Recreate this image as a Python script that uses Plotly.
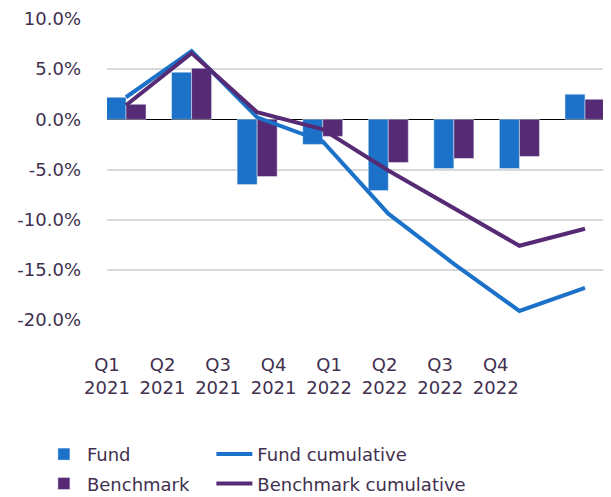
import plotly.graph_objects as go

quarters = ["Q1<br>2021", "Q2<br>2021", "Q3<br>2021", "Q4<br>2021",
            "Q1<br>2022", "Q2<br>2022", "Q3<br>2022", "Q4<br>2022"]
fund = [2.2, 4.7, -6.5, -2.5, -7.1, -4.9, -4.9, 2.5]
benchmark = [1.5, 5.1, -5.7, -1.7, -4.3, -3.9, -3.7, 2.0]
fund_cum = [2.2, 6.8, 0.2, -2.2, -9.4, -14.4, -19.1, -16.8]
bench_cum = [1.4, 6.6, 0.7, -1.0, -5.1, -8.9, -12.6, -10.9]
y_ticks = [10, 5, 0, -5, -10, -15, -20]
y_tick_labels = ["10.0%", "5.0%", "0.0%", "-5.0%", "-10.0%", "-15.0%", "-20.0%"]

BLUE = "#1b72c8"
PURPLE = "#562a74"
TEXT = "#41304f"
FONT = "DejaVu Sans"
FS = 18

fig = go.Figure()
fig.add_trace(go.Bar(x=quarters, y=fund, name="Fund", marker_color=BLUE,
                     legend="legend", legendgroup="a"))
fig.add_trace(go.Bar(x=quarters, y=benchmark, name="Benchmark", marker_color=PURPLE,
                     legend="legend", legendgroup="b"))
fig.add_trace(go.Scatter(x=quarters, y=fund_cum, name="Fund cumulative", mode="lines",
                         line=dict(color=BLUE, width=4), legend="legend2", legendgroup="c"))
fig.add_trace(go.Scatter(x=quarters, y=bench_cum, name="Benchmark cumulative", mode="lines",
                         line=dict(color=PURPLE, width=4), legend="legend2", legendgroup="d"))
# empty trace that only carries the category labels on the label axis
fig.add_trace(go.Scatter(x=quarters, y=[None] * len(quarters), xaxis="x2", mode="lines",
                         showlegend=False, hoverinfo="skip"))

leg_common = dict(orientation="v", yanchor="top", traceorder="grouped", itemwidth=36,
                  tracegroupgap=3,
                  font=dict(family=FONT, size=FS, color=TEXT), bgcolor="rgba(0,0,0,0)")

fig.update_layout(
    width=603, height=489,
    margin=dict(l=99, r=7, t=11, b=177, autoexpand=False),
    plot_bgcolor="white", paper_bgcolor="white",
    font=dict(family=FONT, size=FS, color=TEXT),
    barmode="group", bargap=0.39, bargroupgap=0,
    showlegend=True,
    legend=dict(x=-0.133, y=-0.385, **leg_common),
    legend2=dict(x=0.21, y=-0.385, **leg_common),
    xaxis=dict(type="category", range=[-0.29, 7.29], showticklabels=False,
               showgrid=False, zeroline=False, ticks=""),
    xaxis2=dict(type="category", overlaying="x", anchor="y", side="bottom", range=[0, 8.95],
                showgrid=False, zeroline=False, ticks="", ticklabelstandoff=32,
                tickfont=dict(family=FONT, size=FS, color=TEXT)),
    yaxis=dict(range=[-20, 10], tickmode="array", tickvals=y_ticks, ticktext=y_tick_labels,
               showgrid=True, gridcolor="#d9d9d9", gridwidth=1.5,
               zeroline=True, zerolinecolor="#000000", zerolinewidth=1,
               layer="above traces", ticklabelstandoff=25,
               tickfont=dict(family=FONT, size=FS, color=TEXT)),
)

fig.write_html("out.html")
